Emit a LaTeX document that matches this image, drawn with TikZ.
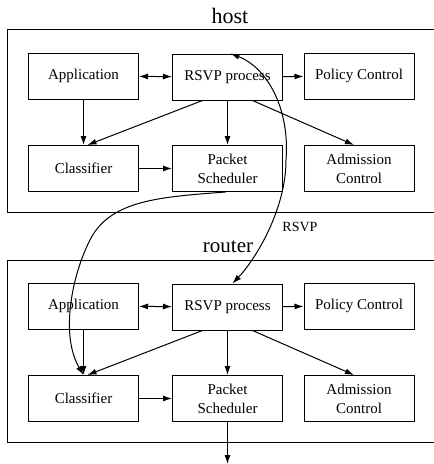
\documentclass[tikz,border=0pt]{standalone}
\usepackage{fontspec}
\setmainfont{Liberation Serif}
\usetikzlibrary{arrows.meta}
\tikzset{
  unit/.style={draw, line width=1pt, minimum width=110pt, minimum height=46pt,
    inner sep=0pt, align=center, font=\fontsize{15}{19}\selectfont},
  frame/.style={line width=1pt},
  link/.style={line width=1pt},
  title/.style={inner sep=0pt, font=\fontsize{22}{24}\selectfont},
  >={Latex[length=9pt,width=6pt]}
}
\begin{document}
\begin{tikzpicture}[x=1pt, y=-1pt]
\useasboundingbox (0,0) rectangle (434,464);

% titles
\node[title] (hosttitle) at (230,16) {host};
\node[title, font=\fontsize{21}{24}\selectfont] (routertitle) at (228,247) {router};

% enclosing frames (open on the right)
\draw[frame] (434,29) -- (7,29) -- (7,212.5) -- (434,212.5);
\draw[frame] (434,260) -- (7,260) -- (7,442) -- (434,442);

% one block of six components per machine
\foreach \p/\dy in {h/0, r/230} {
  \node[unit] (\p app)  at (83.5,{76+\dy})   {Application};
  \node[unit] (\p rsvp) at (227.5,{77+\dy})  {RSVP process};
  \node[unit] (\p pol)  at (359,{76+\dy})    {Policy Control};
  \node[unit] (\p cls)  at (83.5,{168.5+\dy})  {Classifier};
  \node[unit] (\p ps)   at (227.5,{168.5+\dy}) {Packet\\Scheduler};
  \node[unit] (\p adm)  at (359,{168.5+\dy})   {Admission\\Control};

  \draw[link,<->] (\p app) -- (\p rsvp);
  \draw[link,->] (\p rsvp) -- (\p pol);
  \draw[link,->] (\p app) -- (\p cls);
  \draw[link,->] ([xshift=-25pt]\p rsvp.south) -- ([xshift=4pt]\p cls.north);
  \draw[link,->] (\p rsvp) -- (\p ps);
  \draw[link,->] ([xshift=25pt]\p rsvp.south) -- ([xshift=-5pt]\p adm.north);
  \draw[link,->] (\p cls) -- (\p ps);
}

% data path leaving the router
\coordinate (out) at (227.5,464);
\draw[link,->] (rps) -- (out);

% data path from host scheduler to router classifier
\draw[link,->] ([xshift=-2pt]hps.south) .. controls (160,197) and (110,200) .. (90,240)
  .. controls (72,275) and (60,335) .. (rcls.north);

% RSVP signalling between the two RSVP processes
\draw[link,<->] ([xshift=3pt]hrsvp.north) .. controls (268,68) and (290,110) .. (286,160)
  .. controls (286,210) and (255,260) .. ([xshift=5pt]rrsvp.north);
\node[inner sep=0pt, font=\fontsize{14}{16}\selectfont] (rsvplabel) at (300,227) {RSVP};
\end{tikzpicture}
\end{document}
